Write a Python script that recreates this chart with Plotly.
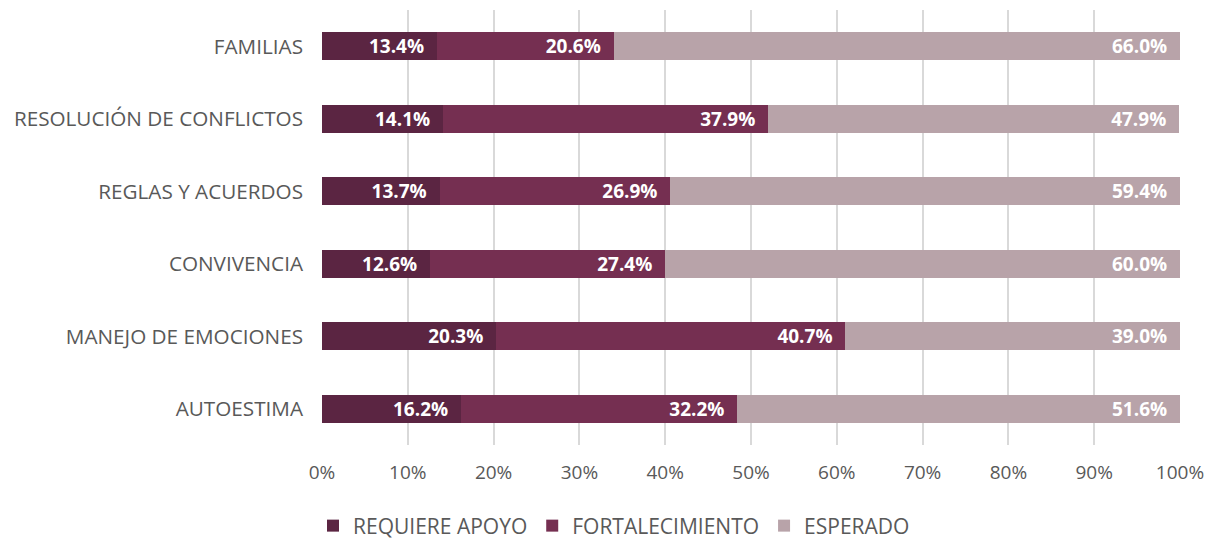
import plotly.graph_objects as go

categories = ["AUTOESTIMA", "MANEJO DE EMOCIONES", "CONVIVENCIA", "REGLAS Y ACUERDOS",
              "RESOLUCIÓN DE CONFLICTOS", "FAMILIAS"]
requiere_apoyo = [16.2, 20.3, 12.6, 13.7, 14.1, 13.4]
fortalecimiento = [32.2, 40.7, 27.4, 26.9, 37.9, 20.6]
esperado = [51.6, 39.0, 60.0, 59.4, 47.9, 66.0]
tick_vals = [0, 10, 20, 30, 40, 50, 60, 70, 80, 90, 100]
tick_text = [f"{v}%" for v in tick_vals]

series = [
    ("REQUIERE APOYO", requiere_apoyo, "#5b2542"),
    ("FORTALECIMIENTO", fortalecimiento, "#752f51"),
    ("ESPERADO", esperado, "#b8a3a9"),
]

fig = go.Figure()
for name, vals, color in series:
    fig.add_trace(go.Bar(
        y=categories, x=vals, name=name, orientation="h",
        marker=dict(color=color, line=dict(width=0)),
        text=[f"{v:.1f}%\u00a0\u00a0" for v in vals], textposition="inside",
        insidetextanchor="end", textangle=0, constraintext="none",
        textfont=dict(color="white", size=19, family="Open Sans", weight="bold"),
        hoverinfo="skip",
    ))

# page body has an 8px margin, so the figure is offset by 8px
fig.update_layout(
    barmode="stack", bargap=0.61,
    width=1212, height=534,
    margin=dict(l=314, r=40, t=2, b=97),
    paper_bgcolor="white", plot_bgcolor="white",
    font=dict(family="Open Sans", color="#595959", size=19),
    legend=dict(orientation="h", xref="container", yref="container",
                x=0.5, xanchor="center", y=0.03, yanchor="middle",
                font=dict(size=21, color="#595959"), traceorder="normal",
                itemwidth=30),
)
fig.update_xaxes(range=[0, 100], tickvals=tick_vals, ticktext=tick_text,
                 showgrid=True, gridcolor="#d9d9d9", gridwidth=1.5,
                 zeroline=False, showline=False, ticks="",
                 ticklabelstandoff=14,
                 tickfont=dict(size=19, color="#595959"))
fig.update_yaxes(categoryorder="array", categoryarray=categories,
                 range=[-0.5, 5.5], showgrid=False, ticks="", showline=False,
                 ticklabelstandoff=18,
                 tickfont=dict(size=20.7, color="#595959"))

fig.write_html("out.html")
